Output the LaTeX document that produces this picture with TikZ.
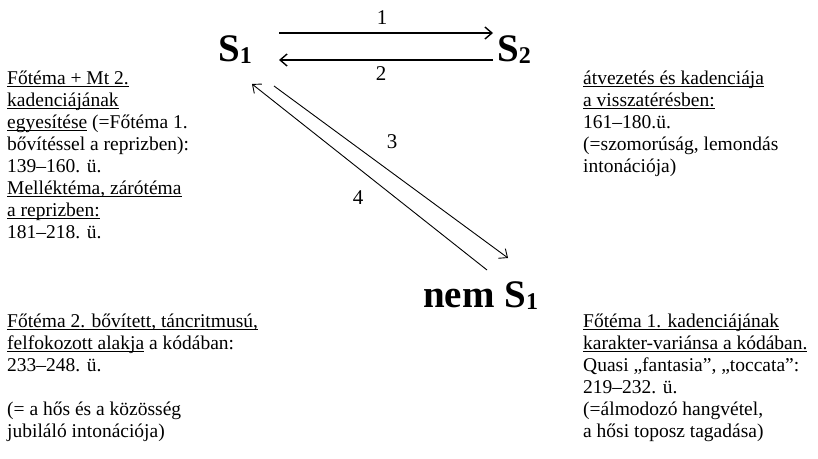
\documentclass[tikz,border=0pt]{standalone}
\usepackage{fontspec}
\setmainfont{Liberation Serif}
\usetikzlibrary{arrows.meta}
\newcommand\undl[1]{\setbox0\hbox{#1}\rlap{\rule[-3pt]{\wd0}{1.2pt}}\box0}
\newcommand\subdig[1]{\raisebox{-2pt}{\fontsize{24}{24}\selectfont #1}}
\begin{document}
\begin{tikzpicture}[x=1pt,y=-1pt,
  txt/.style={anchor=north west, align=left, inner sep=0pt, font=\fontsize{19.5}{22}\selectfont},
  big/.style={anchor=base west, inner sep=0pt, font=\fontsize{39}{39}\selectfont\bfseries},
  num/.style={inner sep=0pt, font=\fontsize{21}{21}\selectfont},
  arr/.style={-{Straight Barb[length=7pt,width=12pt]}, line width=1.4pt},
  darr/.style={-{Straight Barb[length=7pt,width=12pt]}, line width=0.9pt}]
\fill[white] (0,0) rectangle (818,458);
\useasboundingbox (0,0) rectangle (818,458);

\node[big] (S1) at (218,61) {S\subdig{1}};
\node[big] (S2) at (497,61) {S\subdig{2}};
\node[big] (nS1) at (423,307) {nem S\subdig{1}};

\coordinate (a1s) at (279,33);  \coordinate (a1e) at (493,33);
\coordinate (a2s) at (493,60);  \coordinate (a2e) at (279,60);
\coordinate (a3s) at (274,86);  \coordinate (a3e) at (508,258);
\coordinate (a4s) at (487,270); \coordinate (a4e) at (252,84);

\draw[arr] (a1s) -- (a1e);
\draw[arr] (a2s) -- (a2e);
\draw[darr] (a3s) -- (a3e);
\draw[darr] (a4s) -- (a4e);

\node[num] (n1) at (382,18) {1};
\node[num] (n2) at (381,74) {2};
\node[num] (n3) at (392,142) {3};
\node[num] (n4) at (358,198) {4};

\node[txt] (lt) at (7,66) {\rule{0pt}{18pt}\undl{Főtéma + Mt 2.}\\
\undl{kadenciájának}\\
\undl{egyesítése}\ (=Főtéma 1.\\
bővítéssel a reprizben):\\
139–160. ü.\\
\undl{Melléktéma, zárótéma}\\
\undl{a reprizben:}\\
181–218. ü.};

\node[txt] (lb) at (7,309) {\rule{0pt}{18pt}\undl{Főtéma 2. bővített, táncritmusú,}\\
\undl{felfokozott alakja}\ a kódában:\\
233–248. ü.\\[22pt]
(= a hős és a közösség\\
jubiláló intonációja)};

\node[txt] (rt) at (583,66) {\rule{0pt}{18pt}\undl{átvezetés és kadenciája}\\
\undl{a visszatérésben:}\\
161–180.ü.\\
(=szomorúság, lemondás\\
intonációja)};

\node[txt] (rb) at (583,309) {\rule{0pt}{18pt}\undl{Főtéma 1. kadenciájának}\\
\undl{karakter-variánsa a kódában.}\\
Quasi „fantasia”, „toccata”:\\
219–232. ü.\\
(=álmodozó hangvétel,\\
a hősi toposz tagadása)};
\end{tikzpicture}
\end{document}
